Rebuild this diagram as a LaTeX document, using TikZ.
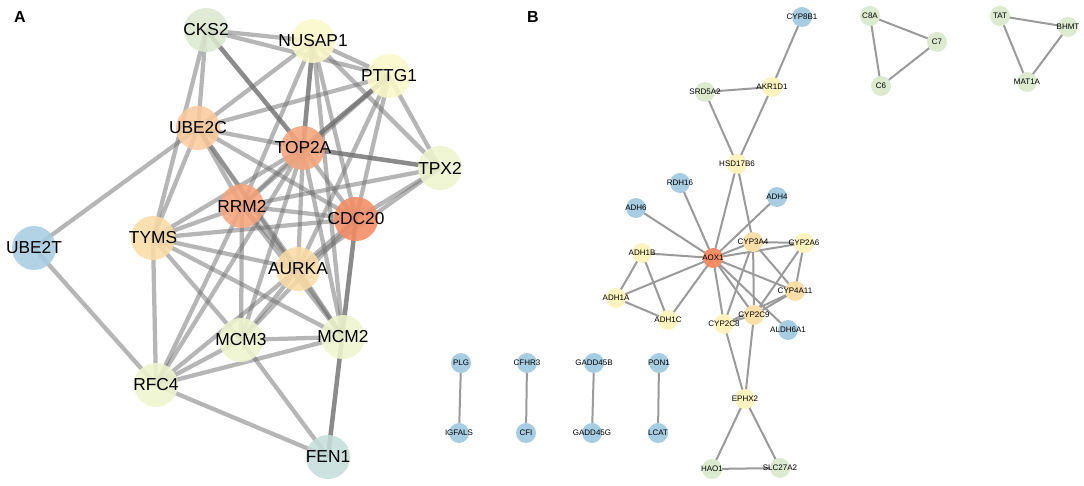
\documentclass[tikz,border=0pt]{standalone}
\usepackage{fontspec}
\setmainfont{Liberation Sans}
\usetikzlibrary{backgrounds}
\definecolor{cgreen}{HTML}{DCE8D0}
\definecolor{cyel}{HTML}{FBF8C8}
\definecolor{cyg}{HTML}{EEF4CE}
\definecolor{clor}{HTML}{F9CB9C}
\definecolor{cor}{HTML}{F6A47B}
\definecolor{cred}{HTML}{F48C64}
\definecolor{ctan}{HTML}{FADCA6}
\definecolor{cblue}{HTML}{A7CDE3}
\definecolor{cteal}{HTML}{C5DEDA}
\definecolor{byel}{HTML}{FDF3BE}
\definecolor{bor}{HTML}{FADFA8}
\definecolor{bgreen}{HTML}{DCEBD0}
\definecolor{edgeA}{HTML}{6E6E6E}
\definecolor{edgeB}{HTML}{9A9A9A}
\tikzset{
  na/.style={circle,minimum size=33pt,inner sep=0pt,draw=none,fill opacity=0.88,
    label={[font=\fontsize{13}{13}\selectfont,text opacity=1]center:#1}},
  nb/.style={circle,minimum size=15pt,inner sep=0pt,draw=none,
    label={[font=\fontsize{6}{6}\selectfont]center:#1}},
  ea/.style={draw=edgeA,line width=3.2pt,draw opacity=0.5},
  eak/.style={draw=edgeA,line width=3.4pt,draw opacity=0.8},
  eb/.style={draw=edgeB,line width=1.5pt},
  panel/.style={font=\bfseries\fontsize{12}{12}\selectfont}
}
\begin{document}
\begin{tikzpicture}[x=0.75pt,y=-0.75pt]
\useasboundingbox (0,0) rectangle (1084,485);
\node[panel] (labA) at (20,17) {A};
\node[panel] (labB) at (533,17) {B};
% ---------- Panel A nodes
\node[na=CKS2,fill=cgreen] (cks2) at (206,30) {};
\node[na=NUSAP1,fill=cyel] (nusap1) at (313,41) {};
\node[na=PTTG1,fill=cyel] (pttg1) at (389,76) {};
\node[na=UBE2C,fill=clor] (ube2c) at (198,128) {};
\node[na=TOP2A,fill=cor] (top2a) at (303,148) {};
\node[na=TPX2,fill=cyg] (tpx2) at (440,168) {};
\node[na=RRM2,fill=cor] (rrm2) at (242,206) {};
\node[na=CDC20,fill=cred] (cdc20) at (356,219) {};
\node[na=TYMS,fill=ctan] (tyms) at (153,238) {};
\node[na=UBE2T,fill=cblue] (ube2t) at (34,248) {};
\node[na=AURKA,fill=ctan] (aurka) at (298,269) {};
\node[na=MCM3,fill=cyg] (mcm3) at (241,340) {};
\node[na=MCM2,fill=cyg] (mcm2) at (343,337) {};
\node[na=RFC4,fill=cyg] (rfc4) at (156,385) {};
\node[na=FEN1,fill=cteal] (fen1) at (328,457) {};
% ---------- Panel B nodes
\node[nb=CYP8B1,fill=cblue] (cyp8b1) at (802,17) {};
\node[nb=SRD5A2,fill=bgreen] (srd5a2) at (705,92) {};
\node[nb=AKR1D1,fill=byel] (akr1d1) at (772,87) {};
\node[nb=HSD17B6,fill=byel] (hsd17b6) at (737,164) {};
\node[nb=RDH16,fill=cblue] (rdh16) at (680,183) {};
\node[nb=ADH4,fill=cblue] (adh4) at (777,197) {};
\node[nb=ADH6,fill=cblue] (adh6) at (636,208) {};
\node[nb=CYP3A4,fill=bor] (cyp3a4) at (753,242) {};
\node[nb=CYP2A6,fill=byel] (cyp2a6) at (804,243) {};
\node[nb=ADH1B,fill=byel] (adh1b) at (642,253) {};
\node[nb=AOX1,fill=cred] (aox1) at (713,258) {};
\node[nb=CYP4A11,fill=bor] (cyp4a11) at (795,291) {};
\node[nb=ADH1A,fill=byel] (adh1a) at (616,298) {};
\node[nb=CYP2C9,fill=bor] (cyp2c9) at (754,315) {};
\node[nb=ADH1C,fill=byel] (adh1c) at (668,320) {};
\node[nb=CYP2C8,fill=byel] (cyp2c8) at (724,324) {};
\node[nb=ALDH6A1,fill=cblue] (aldh6a1) at (788,330) {};
\node[nb=EPHX2,fill=byel] (ephx2) at (745,399) {};
\node[nb=HAO1,fill=bgreen] (hao1) at (712,469) {};
\node[nb=SLC27A2,fill=bgreen] (slc27a2) at (780,468) {};
\node[nb=C8A,fill=bgreen] (c8a) at (870,16) {};
\node[nb=C7,fill=bgreen] (c7) at (937,42) {};
\node[nb=C6,fill=bgreen] (c6) at (881,86) {};
\node[nb=TAT,fill=bgreen] (tat) at (1000,16) {};
\node[nb=BHMT,fill=bgreen] (bhmt) at (1068,27) {};
\node[nb=MAT1A,fill=bgreen] (mat1a) at (1027,82) {};
\node[nb=PLG,fill=cblue] (plg) at (461,363) {};
\node[nb=IGFALS,fill=cblue] (igfals) at (459,433) {};
\node[nb=CFHR3,fill=cblue] (cfhr3) at (527,363) {};
\node[nb=CFI,fill=cblue] (cfi) at (526,433) {};
\node[nb=GADD45B,fill=cblue] (gadd45b) at (594,363) {};
\node[nb=GADD45G,fill=cblue] (gadd45g) at (592,433) {};
\node[nb=PON1,fill=cblue] (pon1) at (659,363) {};
\node[nb=LCAT,fill=cblue] (lcat) at (658,433) {};
% ---------- edges
\begin{scope}[on background layer]
\foreach \a/\b in {cks2/nusap1,cks2/pttg1,cks2/ube2c,cks2/tyms,
  nusap1/pttg1,nusap1/ube2c,nusap1/rrm2,nusap1/cdc20,nusap1/tpx2,nusap1/mcm2,
  pttg1/ube2c,pttg1/tpx2,pttg1/cdc20,pttg1/aurka,pttg1/rrm2,
  ube2c/top2a,ube2c/rrm2,ube2c/tyms,ube2c/ube2t,ube2c/cdc20,ube2c/aurka,ube2c/mcm2,
  top2a/rrm2,top2a/cdc20,top2a/aurka,top2a/tyms,top2a/mcm3,top2a/mcm2,top2a/rfc4,
  tpx2/cdc20,tpx2/rrm2,tpx2/aurka,
  rrm2/cdc20,rrm2/tyms,rrm2/aurka,rrm2/mcm3,rrm2/mcm2,rrm2/rfc4,
  cdc20/tyms,cdc20/aurka,cdc20/mcm3,
  tyms/aurka,tyms/mcm3,tyms/mcm2,tyms/rfc4,
  aurka/mcm3,aurka/mcm2,aurka/rfc4,
  mcm3/mcm2,mcm3/rfc4,mcm3/fen1,mcm2/rfc4,rfc4/fen1,ube2t/rfc4}
  \draw[ea] (\a.center) -- (\b.center);
\foreach \a/\b in {cks2/top2a,nusap1/top2a,pttg1/top2a,top2a/tpx2,cdc20/fen1}
  \draw[eak] (\a.center) -- (\b.center);
\foreach \a/\b in {cyp8b1/akr1d1,srd5a2/akr1d1,srd5a2/hsd17b6,akr1d1/hsd17b6,
  hsd17b6/aox1,hsd17b6/cyp3a4,rdh16/aox1,adh6/aox1,adh4/aox1,
  aox1/cyp3a4,aox1/cyp2a6,aox1/adh1b,aox1/adh1a,aox1/adh1c,aox1/cyp2c8,
  aox1/cyp2c9,aox1/cyp4a11,aox1/aldh6a1,
  adh1b/adh1a,adh1b/adh1c,adh1a/adh1c,
  cyp3a4/cyp2a6,cyp3a4/cyp4a11,cyp3a4/cyp2c9,cyp3a4/cyp2c8,
  cyp2a6/cyp4a11,cyp2a6/cyp2c9,cyp4a11/cyp2c9,cyp4a11/cyp2c8,cyp2c9/cyp2c8,
  cyp2c8/ephx2,cyp2c9/ephx2,ephx2/hao1,ephx2/slc27a2,hao1/slc27a2,
  c8a/c7,c8a/c6,c7/c6,tat/bhmt,tat/mat1a,bhmt/mat1a,
  plg/igfals,cfhr3/cfi,gadd45b/gadd45g,pon1/lcat}
  \draw[eb] (\a.center) -- (\b.center);
\end{scope}
\end{tikzpicture}
\end{document}
